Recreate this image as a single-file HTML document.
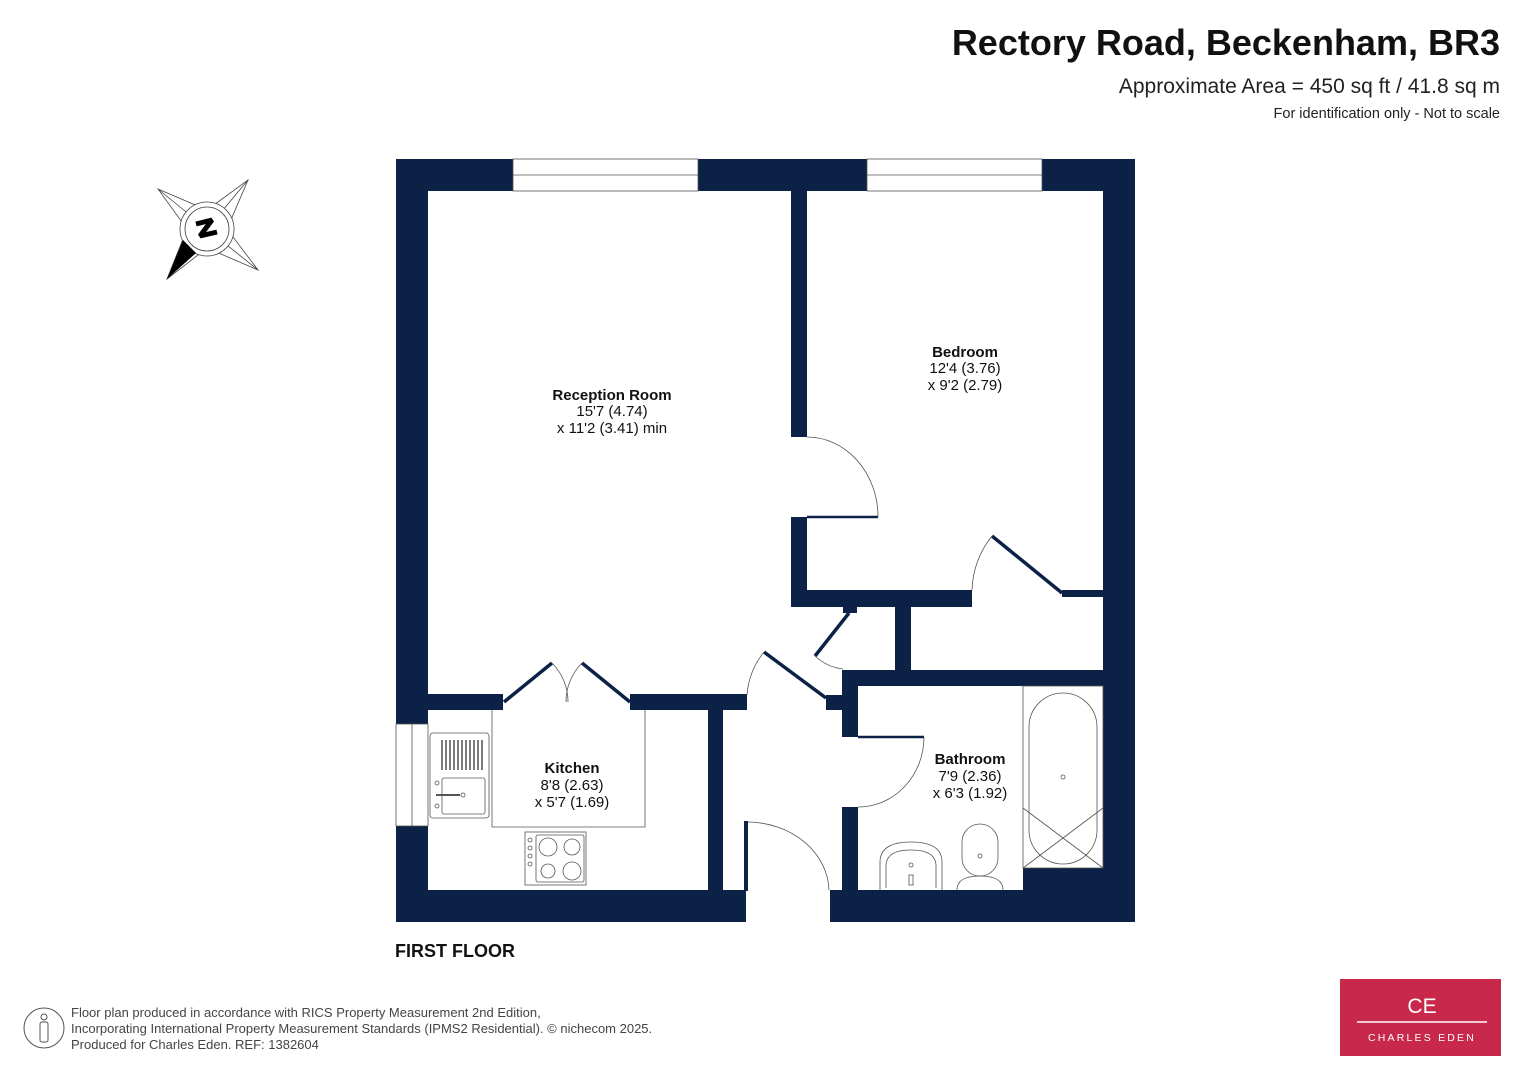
<!DOCTYPE html>
<html><head><meta charset="utf-8"><style>
html,body{margin:0;padding:0;background:#fff;}
body{width:1527px;height:1080px;overflow:hidden;position:relative;font-family:"Liberation Sans",Arial,sans-serif;}
</style></head><body>
<svg width="1527" height="1080" viewBox="0 0 1527 1080" xmlns="http://www.w3.org/2000/svg" style="position:absolute;left:0;top:0">
<g font-family="Liberation Sans, Arial, sans-serif">
<text x="1500" y="55" text-anchor="end" font-size="36" font-weight="bold" fill="#111">Rectory Road, Beckenham, BR3</text>
<text x="1500" y="93" text-anchor="end" font-size="21" fill="#222">Approximate Area = 450 sq ft / 41.8 sq m</text>
<text x="1500" y="118" text-anchor="end" font-size="14.5" fill="#222">For identification only - Not to scale</text>
</g>
<!-- compass -->
<g stroke="#444" stroke-width="0.8" fill="none">
<polygon points="158,189 207,210 248,180 227,229 258,270 207,248 167,279 187,229"/>
<line x1="158" y1="189" x2="207" y2="229"/><line x1="248" y1="180" x2="207" y2="229"/>
<line x1="258" y1="270" x2="207" y2="229"/><line x1="167" y1="279" x2="207" y2="229"/>
<circle cx="207" cy="229" r="27" fill="#fff"/><circle cx="207" cy="229" r="22"/>
</g>
<polygon points="167,279 183,240 196,253" fill="#000"/>
<path d="M196,224 L212,220 L200,236 L217,232" stroke="#000" stroke-width="5" fill="none" stroke-linejoin="bevel"/>
<g fill="#0b2146">
<rect x="396" y="159" width="739" height="32"/>
<rect x="396" y="159" width="32" height="763"/>
<rect x="1103" y="159" width="32" height="763"/>
<rect x="396" y="890" width="350" height="32"/>
<rect x="830" y="890" width="305" height="32"/>
<rect x="1023" y="868" width="112" height="54"/>
<rect x="791" y="191" width="16" height="246"/>
<rect x="791" y="517" width="16" height="90"/>
<rect x="791" y="590" width="181" height="17"/>
<rect x="1062" y="590" width="41" height="7"/>
<rect x="895" y="597" width="16" height="80"/>
<rect x="843" y="670" width="260" height="16"/>
<rect x="843" y="606" width="14" height="7"/>
<rect x="842" y="670" width="16" height="67"/>
<rect x="826" y="695" width="20" height="15"/>
<rect x="842" y="807" width="16" height="90"/>
<rect x="428" y="694" width="75" height="16"/>
<rect x="630" y="694" width="117" height="16"/>
<rect x="708" y="694" width="15" height="196"/>
<rect x="744" y="821" width="4" height="70"/>
</g>
<g fill="#fff" stroke="#555" stroke-width="0.8">
<rect x="513" y="159" width="185" height="32"/><line x1="513" y1="175" x2="698" y2="175"/>
<rect x="867" y="159" width="175" height="32"/><line x1="867" y1="175" x2="1042" y2="175"/>
<rect x="396" y="724" width="32" height="102"/><line x1="412" y1="724" x2="412" y2="826"/>
</g>
<g stroke="#0b2146" stroke-width="3.5" fill="none">
<line x1="807" y1="517" x2="878" y2="517" stroke-width="2.5"/>
<line x1="1062" y1="593" x2="992" y2="536"/>
<line x1="849" y1="613" x2="815" y2="656"/>
<line x1="826" y1="698" x2="764" y2="652"/>
<line x1="504" y1="702" x2="552" y2="663"/>
<line x1="630" y1="702" x2="582" y2="663"/>
<line x1="858" y1="737" x2="924" y2="737" stroke-width="2.5"/>
</g>
<g stroke="#555" stroke-width="0.8" fill="none">
<path d="M807,437 A71,80 0 0 1 878,517"/>
<path d="M992,536 A90,90 0 0 0 972,590"/>
<path d="M815,656 A50,50 0 0 0 843,669"/>
<path d="M764,652 A78,78 0 0 0 747,695"/>
<path d="M552,663 A55,55 0 0 1 568,702"/>
<path d="M582,663 A55,55 0 0 0 566,702"/>
<path d="M924,737 A66,70 0 0 1 858,807"/>
<path d="M748,822 A82,70 0 0 1 829,890"/>
<path d="M492,710 V827 H645 V710"/>
<rect x="430" y="733" width="59" height="85" rx="3"/>
<rect x="442" y="778" width="43" height="36" rx="2"/>
<line x1="436" y1="795" x2="460" y2="795" stroke-width="2"/><circle cx="463" cy="795" r="2"/>
<circle cx="437" cy="783" r="2"/><circle cx="437" cy="806" r="2"/>
<rect x="525" y="832" width="61" height="53"/><rect x="536" y="835" width="48" height="47" rx="2"/>
<circle cx="548" cy="847" r="9"/><circle cx="572" cy="847" r="8"/><circle cx="548" cy="871" r="7"/><circle cx="572" cy="871" r="9"/>
<circle cx="530" cy="840" r="2"/><circle cx="530" cy="848" r="2"/><circle cx="530" cy="856" r="2"/><circle cx="530" cy="864" r="2"/>
<rect x="1023" y="686" width="80" height="182"/>
<rect x="1029" y="693" width="68" height="171" rx="34"/>
<line x1="1023" y1="808" x2="1103" y2="868"/><line x1="1103" y1="808" x2="1023" y2="868"/>
<circle cx="1063" cy="777" r="2"/>
<path d="M880,890 V862 Q880,842 911,842 Q942,842 942,862 V890"/>
<path d="M886,888 V866 Q886,850 911,850 Q936,850 936,866 V888"/>
<circle cx="911" cy="865" r="2"/><rect x="909" y="875" width="4" height="10"/>
<rect x="962" y="824" width="36" height="52" rx="18"/>
<path d="M957,890 Q957,876 980,876 Q1003,876 1003,890"/>
<circle cx="980" cy="856" r="2"/>
</g>
<g stroke="#222" stroke-width="1.2">
<line x1="442" y1="740" x2="442" y2="770"/><line x1="446" y1="740" x2="446" y2="770"/><line x1="450" y1="740" x2="450" y2="770"/><line x1="454" y1="740" x2="454" y2="770"/><line x1="458" y1="740" x2="458" y2="770"/><line x1="462" y1="740" x2="462" y2="770"/><line x1="466" y1="740" x2="466" y2="770"/><line x1="470" y1="740" x2="470" y2="770"/><line x1="474" y1="740" x2="474" y2="770"/><line x1="478" y1="740" x2="478" y2="770"/><line x1="482" y1="740" x2="482" y2="770"/>
</g>
<g font-family="Liberation Sans, Arial, sans-serif" font-size="15" fill="#111" text-anchor="middle">
<text x="612" y="400" font-weight="bold">Reception Room</text><text x="612" y="416">15'7 (4.74)</text><text x="612" y="433">x 11'2 (3.41) min</text>
<text x="965" y="357" font-weight="bold">Bedroom</text><text x="965" y="373">12'4 (3.76)</text><text x="965" y="390">x 9'2 (2.79)</text>
<text x="572" y="773" font-weight="bold">Kitchen</text><text x="572" y="790">8'8 (2.63)</text><text x="572" y="807">x 5'7 (1.69)</text>
<text x="970" y="764" font-weight="bold">Bathroom</text><text x="970" y="781">7'9 (2.36)</text><text x="970" y="798">x 6'3 (1.92)</text>
<text x="395" y="957" font-size="18" font-weight="bold" text-anchor="start">FIRST FLOOR</text>
</g>
<circle cx="44" cy="1028" r="20" fill="none" stroke="#555" stroke-width="1"/>
<circle cx="44" cy="1017" r="3" fill="none" stroke="#555"/>
<rect x="40" y="1022" width="8" height="20" rx="2" fill="none" stroke="#555"/>
<g font-family="Liberation Sans, Arial, sans-serif" font-size="13" fill="#444">
<text x="71" y="1017">Floor plan produced in accordance with RICS Property Measurement 2nd Edition,</text>
<text x="71" y="1033">Incorporating International Property Measurement Standards (IPMS2 Residential).   © nichecom 2025.</text>
<text x="71" y="1049">Produced for Charles Eden.   REF: 1382604</text>
</g>
<rect x="1340" y="979" width="161" height="77" fill="#c8294a"/>
<text x="1422" y="1013" text-anchor="middle" font-family="Liberation Sans, Arial, sans-serif" font-size="21" fill="#fff">CE</text>
<line x1="1357" y1="1022" x2="1487" y2="1022" stroke="#fff" stroke-width="1.5"/>
<text x="1422" y="1041" text-anchor="middle" font-family="Liberation Sans, Arial, sans-serif" font-size="10.5" letter-spacing="2.2" fill="#fff">CHARLES EDEN</text>
</svg>
</body></html>
